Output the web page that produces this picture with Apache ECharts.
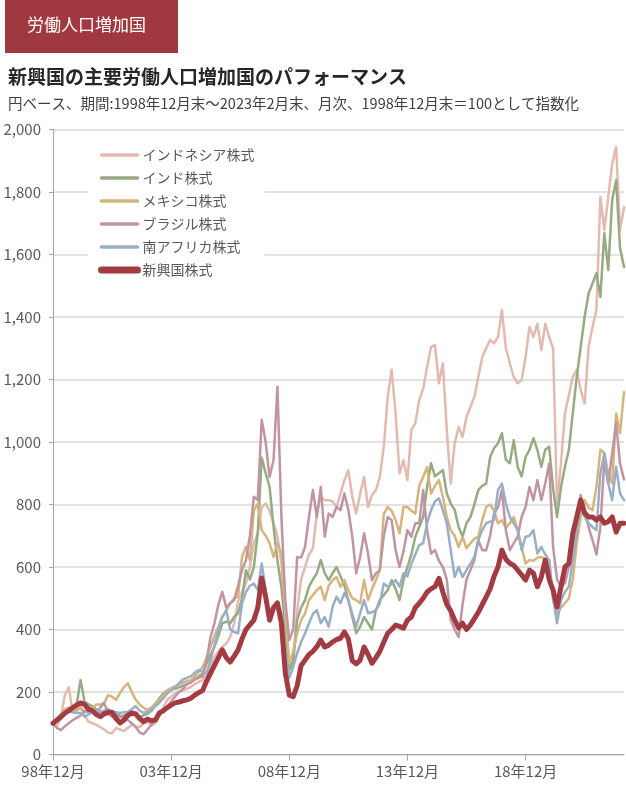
<!DOCTYPE html>
<html>
<head>
<meta charset="utf-8">
<script src="https://cdn.jsdelivr.net/npm/echarts@6/dist/echarts.min.js"></script>
<style>
  html, body { margin: 0; padding: 0; background: #fff; }
  #main { width: 626px; height: 787px; }
</style>
</head>
<body>
<div id="main"></div>
<script>
// 2か月ごとの値（1998年12月末＝100）
var indonesia = [
  100,90,120,190,215,135,145,153,125,105,100,95,88,80,70,68,85,80,75,85,95,90,88,100,105,92,100,125,150,
  175,185,195,200,205,210,216,225,232,238,260,285,312,330,345,355,376,420,490,520,548,600,676,708,790,803,780,740,697,611,450,270,300,460,
  560,600,640,660,771,825,814,814,810,792,835,878,910,825,771,835,888,792,830,846,888,985,1145,1231,1091,900,942,878,1038,1060,
  1134,1170,1240,1304,1310,1188,1252,1038,867,996,1048,1016,1080,1112,1144,1208,1272,1300,1326,1316,1336,1422,1300,1252,1208,1188,1198,1272,1368,
  1336,1378,1294,1378,1336,1300,800,932,1091,1150,1208,1231,1166,1123,1304,1368,1422,1784,1678,1784,1890,1945,1678,1752
];
var india = [
  100,115,125,135,140,145,160,238,170,160,155,145,135,140,145,135,125,120,125,130,135,125,120,125,130,140,160,180,195,
  205,208,210,215,220,225,230,240,250,260,290,320,345,380,420,425,420,440,452,500,590,560,600,710,950,900,856,730,620,536,400,270,300,430,
  470,494,537,560,580,622,580,558,580,600,570,540,494,440,388,409,440,420,400,462,494,510,526,558,530,494,558,600,640,697,
  728,760,856,932,890,900,910,835,803,783,728,697,740,760,800,846,860,867,952,980,996,1028,943,932,1006,920,890,952,975,
  1012,975,921,975,985,850,760,856,921,975,1093,1208,1304,1400,1475,1507,1540,1464,1668,1550,1775,1838,1620,1560
];
var mexico = [
  100,115,130,145,150,145,140,150,135,140,150,160,160,165,190,185,175,196,215,228,200,175,160,150,142,150,164,175,190,
  206,212,218,225,230,235,238,250,265,280,310,345,380,410,440,460,484,500,505,632,664,622,780,803,718,700,676,632,676,643,451,
  292,330,388,430,451,494,510,526,537,494,540,558,568,537,558,526,500,494,484,558,494,530,558,590,771,792,780,750,708,792,
  792,780,771,860,888,920,835,860,878,825,760,718,700,664,697,660,676,690,697,750,792,800,780,740,750,725,740,760,718,664,611,622,
  620,630,632,625,622,494,451,470,484,500,560,676,760,814,790,782,856,975,965,900,867,1091,1028,1160
];
var brazil = [
  100,85,78,90,100,110,117,125,140,135,135,133,150,165,130,121,133,125,115,110,100,88,70,65,80,95,115,125,140,153,170,185,
  200,210,225,230,240,245,250,300,376,420,480,520,470,484,494,540,590,622,700,825,814,1071,1000,888,942,1177,760,494,366,400,632,630,664,760,846,760,
  856,697,771,760,792,782,835,782,697,580,632,708,643,558,580,590,700,760,750,654,600,650,718,697,740,
  740,846,718,643,654,620,600,560,430,400,376,480,560,590,622,686,654,654,700,771,792,846,718,654,676,697,760,792,
  856,814,878,814,867,931,664,560,537,548,600,622,708,830,782,728,686,640,728,942,867,964,1060,930,880
];
var southAfrica = [
  100,115,128,135,138,135,133,133,121,128,135,140,138,136,137,137,135,133,135,137,145,155,140,133,138,143,155,165,180,
  195,205,215,228,240,245,250,262,270,265,260,300,350,400,440,462,400,392,388,484,520,540,547,526,611,526,440,470,484,451,334,
  245,280,324,360,388,420,450,462,420,440,409,472,505,484,516,494,450,409,452,494,452,455,462,484,547,537,545,558,537,580,
  570,610,640,670,676,740,782,810,820,782,740,654,568,600,568,590,611,632,686,718,740,745,750,846,867,803,760,740,718,654,697,700,
  718,643,664,640,622,500,420,494,520,537,622,728,790,760,740,728,718,900,964,867,814,921,835,814
];
var emerging = [
  100,110,120,132,140,150,158,165,160,145,140,128,121,130,135,135,115,101,110,125,133,130,115,105,113,108,110,133,140,150,
  158,165,168,172,175,180,190,198,205,235,260,285,310,335,310,296,315,335,370,400,415,430,470,565,505,430,470,485,420,260,190,185,220,
  285,302,320,330,345,366,344,350,360,368,372,392,370,300,290,302,344,320,292,310,330,360,388,400,414,410,404,430,440,470,
  484,500,520,530,537,564,520,480,460,430,405,420,400,415,435,455,480,504,530,570,600,654,625,612,605,590,575,558,590,
  580,537,568,622,560,526,472,537,600,612,708,760,814,773,760,760,750,760,740,745,760,712,740,740
];

// 1998年12月から2か月おき（最後が2023年2月）
var categories = [];
for (var k = 0; k < emerging.length; k++) {
  var mm = 12 + 2 * k;
  var yy = 1998 + Math.floor((mm - 1) / 12);
  var mo = ((mm - 1) % 12) + 1;
  categories.push(String(yy % 100).padStart(2, '0') + '年' + mo + '月');
}

var seriesNames = ['インドネシア株式', 'インド株式', 'メキシコ株式', 'ブラジル株式', '南アフリカ株式', '新興国株式'];
var seriesColors = ['#E3BAB0', '#97AB82', '#D5B57D', '#C094A3', '#9AAFC7', '#A33B43'];
var seriesWidths = [2.5, 2.5, 2.5, 2.5, 2.5, 5];
var seriesData = [indonesia, india, mexico, brazil, southAfrica, emerging];

var font = '"Noto Sans CJK JP", "Noto Sans", sans-serif';

var chartDom = document.getElementById('main');
var myChart = echarts.init(chartDom);

var series = seriesNames.map(function (name, i) {
  return {
    name: name,
    type: 'line',
    data: seriesData[i],
    symbol: 'none',
    smooth: false,
    animation: false,
    z: i + 2,
    lineStyle: { color: seriesColors[i], width: seriesWidths[i], cap: 'round', join: 'round' },
    itemStyle: { color: seriesColors[i] }
  };
});

// 凡例の線は太め、新興国はさらに太く
var legendData = seriesNames.map(function (name, i) {
  return { name: name, lineStyle: { width: i === 5 ? 7 : 3.5, cap: 'round' } };
});

var option = {
  backgroundColor: '#fff',
  textStyle: { fontFamily: font },
  graphic: [
    { type: 'rect', left: 5, top: 0, shape: { width: 173, height: 53 }, style: { fill: '#A0393F' } },
    {
      type: 'text', left: 27, top: 16,
      style: { text: '労働人口増加国', fill: '#fff', fontSize: 17, fontFamily: font }
    }
  ],
  title: [
    {
      text: '新興国の主要労働人口増加国のパフォーマンス',
      left: 3, top: 62,
      textStyle: { fontSize: 19, fontWeight: 'bold', color: '#262626', fontFamily: font }
    },
    {
      text: '円ベース、期間:1998年12月末～2023年2月末、月次、1998年12月末＝100として指数化',
      left: 3, top: 91,
      textStyle: { fontSize: 14.5, fontWeight: 'normal', color: '#404040', fontFamily: font }
    }
  ],
  legend: {
    orient: 'vertical',
    left: 88, top: 140,
    data: legendData,
    itemWidth: 36, itemHeight: 14, itemGap: 9,
    itemStyle: { opacity: 0 },
    backgroundColor: '#fff',
    padding: [8, 10, 8, 10],
    textStyle: { fontSize: 14, color: '#595959', fontFamily: font }
  },
  grid: { left: 53, right: 2, top: 129.5, bottom: 32.5, containLabel: false },
  xAxis: {
    type: 'category',
    data: categories,
    boundaryGap: false,
    axisLine: { lineStyle: { color: '#a6a6a6', width: 1 } },
    axisTick: { interval: 29, length: 6, lineStyle: { color: '#a6a6a6' } },
    axisLabel: { interval: 29, color: '#595959', fontSize: 15, margin: 9, fontFamily: font },
    splitLine: { show: false }
  },
  yAxis: {
    type: 'value',
    min: 0, max: 2000, interval: 200,
    axisLine: { show: true, lineStyle: { color: '#a6a6a6', width: 1 } },
    axisTick: { show: true, length: 4, lineStyle: { color: '#a6a6a6' } },
    axisLabel: {
      color: '#595959', fontSize: 15, margin: 12, fontFamily: font,
      formatter: function (v) { return v.toLocaleString('en-US'); }
    },
    splitLine: { lineStyle: { color: '#d9d9d9', width: 1.5 } }
  },
  series: series
};

option && myChart.setOption(option);
</script>
</body>
</html>
